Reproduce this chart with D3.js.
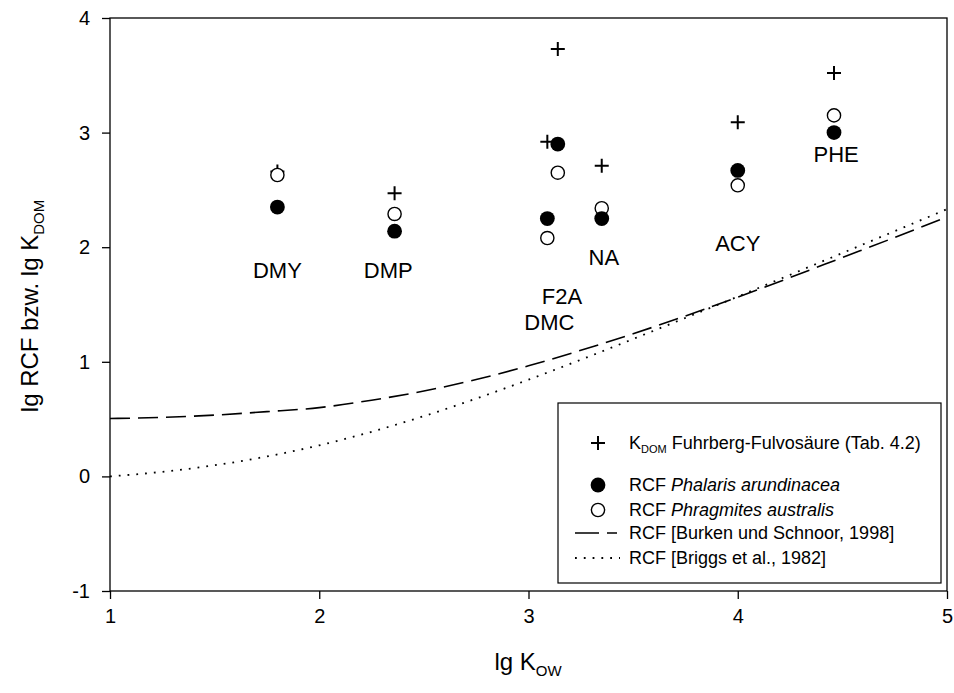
<!DOCTYPE html>
<html>
<head>
<meta charset="utf-8">
<script src="https://cdn.jsdelivr.net/npm/d3@7"></script>
<style>
  body { margin: 0; background: #fff; }
  text { font-family: "Liberation Sans", Arial, sans-serif; fill: #000; }
</style>
</head>
<body>
<div id="chart"></div>
<script>
// compounds and their lg Kow
const compounds = ["DMY", "DMP", "DMC", "F2A", "NA", "ACY", "PHE"];
const lgKow = [1.80, 2.36, 3.09, 3.14, 3.35, 4.00, 4.46];
// lg K_DOM (Fuhrberg fulvic acid)
const kdom = [2.66, 2.47, 2.92, 3.73, 2.71, 3.09, 3.52];
// lg RCF measured
const phalaris = [2.35, 2.14, 2.25, 2.90, 2.25, 2.67, 3.00];
const phragmites = [2.63, 2.29, 2.08, 2.65, 2.34, 2.54, 3.15];

// label anchors (data units) for compound names
const labelX = [1.80, 2.33, 3.10, 3.16, 3.36, 4.00, 4.47];
const labelY = [1.80, 1.80, 1.35, 1.575, 1.91, 2.04, 2.81];

// model curves
const curveX = [1.0, 1.25, 1.5, 1.75, 2.0, 2.25, 2.5, 2.75, 3.0, 3.25, 3.5, 3.75, 4.0, 4.25, 4.5, 4.75, 5.0];
const burken = [0.505, 0.515, 0.535, 0.565, 0.60, 0.665, 0.745, 0.845, 0.965, 1.10, 1.245, 1.40, 1.565, 1.735, 1.91, 2.085, 2.265];
const briggs = [0.0, 0.04, 0.097, 0.174, 0.271, 0.389, 0.526, 0.679, 0.844, 1.018, 1.199, 1.383, 1.569, 1.759, 1.949, 2.14, 2.332];

const xTicks = [1, 2, 3, 4, 5];
const yTicks = [-1, 0, 1, 2, 3, 4];

const W = 954, H = 693;
const svg = d3.select("#chart").append("svg")
    .attr("width", W)
    .attr("height", H);

const x = d3.scaleLinear().domain([1, 5]).range([110, 947]);
const y = d3.scaleLinear().domain([-1, 4]).range([591, 18]);

// frame
svg.append("rect")
    .attr("x", x(1)).attr("y", y(4))
    .attr("width", x(5) - x(1)).attr("height", y(-1) - y(4))
    .attr("fill", "none").attr("stroke", "#000").attr("stroke-width", 1.3);

// axes
const xAxis = svg.append("g")
    .attr("transform", `translate(0,${y(-1)})`)
    .call(d3.axisBottom(x).tickValues(xTicks).tickFormat(d => String(d)).tickSize(8).tickPadding(10));
const yAxis = svg.append("g")
    .attr("transform", `translate(${x(1)},0)`)
    .call(d3.axisLeft(y).tickValues(yTicks).tickFormat(d => String(d)).tickSize(8).tickPadding(12));
[xAxis, yAxis].forEach(g => {
    g.select(".domain").remove();
    g.selectAll("line").attr("stroke", "#000").attr("stroke-width", 1.3);
    g.selectAll("text").style("font-size", "20px").style("font-family", "'Liberation Sans', Arial, sans-serif");
});

// axis titles
const xt = svg.append("text")
    .attr("x", 528).attr("y", 670)
    .attr("text-anchor", "middle")
    .style("font-size", "24px");
xt.append("tspan").text("lg K");
xt.append("tspan").attr("dy", 6).style("font-size", "15px").text("OW");

const yt = svg.append("text")
    .attr("transform", "translate(38,306) rotate(-90)")
    .attr("text-anchor", "middle")
    .style("font-size", "24px");
yt.append("tspan").text("lg RCF bzw. lg K");
yt.append("tspan").attr("dy", 6).style("font-size", "15px").text("DOM");

// model curves
const line = ys => d3.line()
    .x((d, i) => x(curveX[i]))
    .y(d => y(d))
    .curve(d3.curveMonotoneX)(ys);

svg.append("path")
    .attr("d", line(burken))
    .attr("fill", "none").attr("stroke", "#000").attr("stroke-width", 1.6)
    .attr("stroke-dasharray", "20,8");
svg.append("path")
    .attr("d", line(briggs))
    .attr("fill", "none").attr("stroke", "#000").attr("stroke-width", 1.8)
    .attr("stroke-dasharray", "1.8,7");

// points
const crossPath = "M-7,0H7M0,-7V7";
svg.append("g").selectAll("path")
    .data(kdom)
    .join("path")
    .attr("d", crossPath)
    .attr("transform", (d, i) => `translate(${x(lgKow[i])},${y(d)})`)
    .attr("stroke", "#000").attr("stroke-width", 2);

svg.append("g").selectAll("circle")
    .data(phragmites)
    .join("circle")
    .attr("cx", (d, i) => x(lgKow[i]))
    .attr("cy", d => y(d))
    .attr("r", 6.6)
    .attr("fill", "#fff").attr("stroke", "#000").attr("stroke-width", 1.4);

svg.append("g").selectAll("circle")
    .data(phalaris)
    .join("circle")
    .attr("cx", (d, i) => x(lgKow[i]))
    .attr("cy", d => y(d))
    .attr("r", 7.4)
    .attr("fill", "#000");

// compound labels
svg.append("g").selectAll("text")
    .data(compounds)
    .join("text")
    .attr("x", (d, i) => x(labelX[i]))
    .attr("y", (d, i) => y(labelY[i]))
    .attr("dy", "0.36em")
    .attr("text-anchor", "middle")
    .style("font-size", "22px")
    .text(d => d);

// legend
const lg = svg.append("g");
lg.append("rect")
    .attr("x", 558).attr("y", 403)
    .attr("width", 383).attr("height", 180)
    .attr("fill", "#fff").attr("stroke", "#000").attr("stroke-width", 1.2);

const symX = 598, txtX = 629;
const rows = [443, 485, 510, 533, 558];

lg.append("path").attr("d", crossPath)
    .attr("transform", `translate(${symX},${rows[0]})`)
    .attr("stroke", "#000").attr("stroke-width", 2);
lg.append("circle").attr("cx", symX).attr("cy", rows[1]).attr("r", 7.4).attr("fill", "#000");
lg.append("circle").attr("cx", symX).attr("cy", rows[2]).attr("r", 6.6)
    .attr("fill", "#fff").attr("stroke", "#000").attr("stroke-width", 1.4);
lg.append("line").attr("x1", 575).attr("x2", 619).attr("y1", rows[3]).attr("y2", rows[3])
    .attr("stroke", "#000").attr("stroke-width", 1.6).attr("stroke-dasharray", "24,8,10");
lg.append("line").attr("x1", 575).attr("x2", 620).attr("y1", rows[4]).attr("y2", rows[4])
    .attr("stroke", "#000").attr("stroke-width", 1.8).attr("stroke-dasharray", "1.8,7");

const legFont = "18px";
const t0 = lg.append("text").attr("x", txtX).attr("y", rows[0]).attr("dy", "0.36em").style("font-size", legFont);
t0.append("tspan").text("K");
t0.append("tspan").attr("dy", 4).style("font-size", "11px").text("DOM");
t0.append("tspan").attr("dy", -4).text(" Fuhrberg-Fulvosäure (Tab. 4.2)");

const t1 = lg.append("text").attr("x", txtX).attr("y", rows[1]).attr("dy", "0.36em").style("font-size", legFont);
t1.append("tspan").text("RCF ");
t1.append("tspan").style("font-style", "italic").text("Phalaris arundinacea");

const t2 = lg.append("text").attr("x", txtX).attr("y", rows[2]).attr("dy", "0.36em").style("font-size", legFont);
t2.append("tspan").text("RCF ");
t2.append("tspan").style("font-style", "italic").text("Phragmites australis");

lg.append("text").attr("x", txtX).attr("y", rows[3]).attr("dy", "0.36em").style("font-size", legFont)
    .text("RCF [Burken und Schnoor, 1998]");
lg.append("text").attr("x", txtX).attr("y", rows[4]).attr("dy", "0.36em").style("font-size", legFont)
    .text("RCF [Briggs et al., 1982]");
</script>
</body>
</html>
